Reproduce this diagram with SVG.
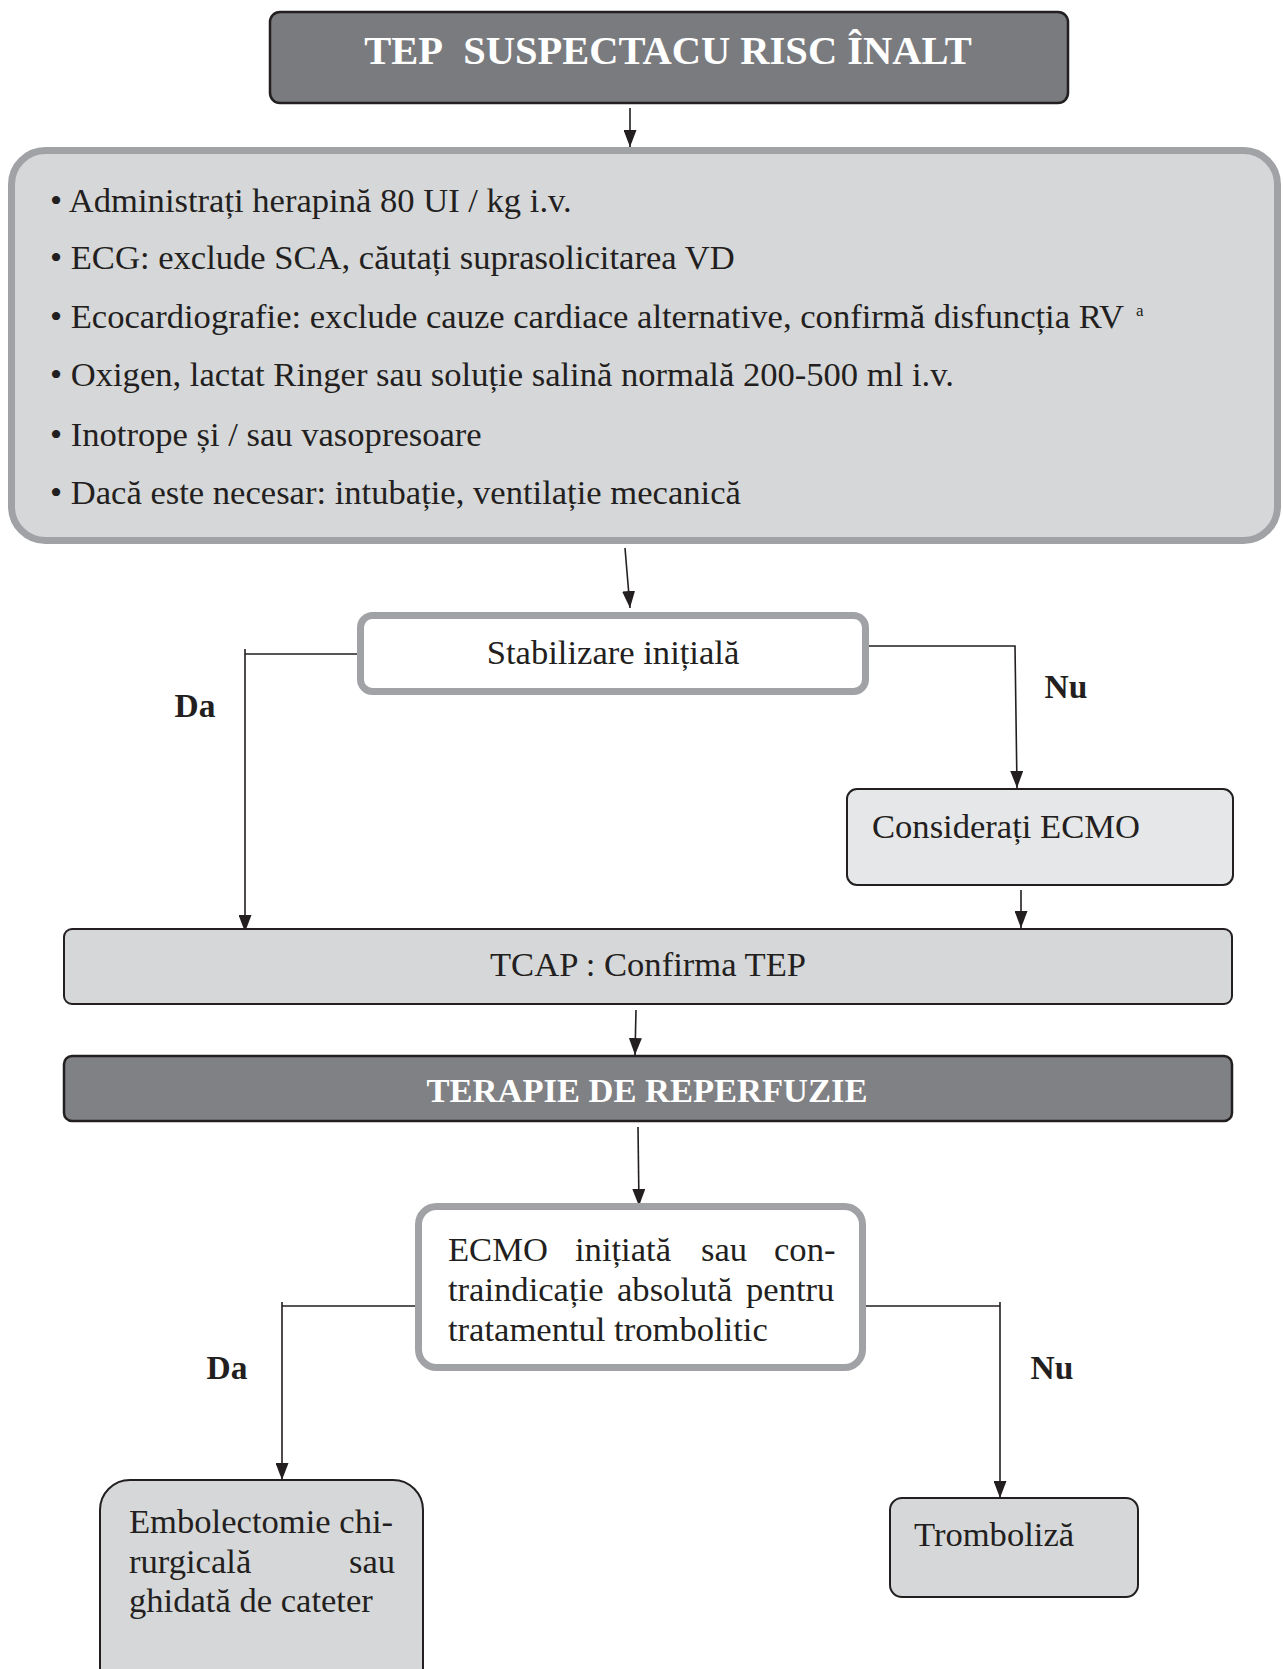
<svg xmlns="http://www.w3.org/2000/svg" width="1283" height="1669" viewBox="0 0 1283 1669">
<defs>
<marker id="ah" markerUnits="userSpaceOnUse" markerWidth="18" markerHeight="13" viewBox="0 0 18 13" refX="17" refY="6.5" orient="auto">
<path d="M0,0 L17,6.5 L0,13 Z" fill="#231f20"/>
</marker>
<style>
.t{font-family:"Liberation Serif","Times New Roman",serif;font-size:34.6px;fill:#231f20}
.sup{font-family:"Liberation Serif","Times New Roman",serif;font-size:17px;fill:#231f20}
.h{font-family:"Liberation Serif","Times New Roman",serif;font-weight:bold;fill:#ffffff}
.lb{font-family:"Liberation Serif","Times New Roman",serif;font-weight:bold;font-size:33.5px;fill:#231f20}
.dark{fill:#7a7b7f;stroke:#231f20;stroke-width:2.5}
.lt{fill:#d6d7d9;stroke:#231f20;stroke-width:2}
.gray{stroke:#a0a2a5;stroke-width:7}
.c{fill:none;stroke:#231f20;stroke-width:1.6}
</style>
</defs>
<rect width="1283" height="1669" fill="#ffffff"/>

<g id="connectors">
<path class="c" d="M630,108 V147" marker-end="url(#ah)"/>
<path class="c" d="M625,548 L630,608" marker-end="url(#ah)"/>
<path class="c" d="M360,654 H245 M245,649 V932" marker-end="url(#ah)"/>
<path class="c" d="M868,646 H1015 L1017,788" marker-end="url(#ah)"/>
<path class="c" d="M1021,890 V928" marker-end="url(#ah)"/>
<path class="c" d="M636,1010 L635,1055" marker-end="url(#ah)"/>
<path class="c" d="M638,1127 L639,1206" marker-end="url(#ah)"/>
<path class="c" d="M417,1306 H282 M282,1302 V1480" marker-end="url(#ah)"/>
<path class="c" d="M866,1306 H1000 M1000,1302 V1498" marker-end="url(#ah)"/>
</g>

<g id="n-title">
<rect class="dark" x="270" y="12" width="798" height="91" rx="10"/>
<text class="h" x="668" y="64" font-size="40.5" text-anchor="middle">TEP&#160; SUSPECTACU RISC ÎNALT</text>
</g>

<g id="n-measures">
<rect x="11.5" y="150.5" width="1266" height="390" rx="34" fill="#d6d7d9" class="gray"/>
<text class="t" x="50" y="212">• Administrați herapină 80 UI / kg i.v.</text>
<text class="t" x="50" y="269">• ECG: exclude SCA, căutați suprasolicitarea VD</text>
<text class="t" x="50" y="328">• Ecocardiografie: exclude cauze cardiace alternative, confirmă disfuncția RV</text>
<text class="sup" x="1136" y="316">a</text>
<text class="t" x="50" y="386">• Oxigen, lactat Ringer sau soluție salină normală 200-500 ml i.v.</text>
<text class="t" x="50" y="446">• Inotrope și / sau vasopresoare</text>
<text class="t" x="50" y="504">• Dacă este necesar: intubație, ventilație mecanică</text>
</g>

<g id="n-stab">
<rect x="360.5" y="615.5" width="505" height="76" rx="12" fill="#ffffff" class="gray"/>
<text class="t" x="613" y="664" text-anchor="middle">Stabilizare inițială</text>
</g>

<text class="lb" x="195" y="717" text-anchor="middle">Da</text>
<text class="lb" x="1066" y="698" text-anchor="middle">Nu</text>

<g id="n-ecmo">
<rect x="847" y="789" width="386" height="96" rx="10" fill="#e6e7e8" stroke="#231f20" stroke-width="2"/>
<text class="t" x="872" y="838">Considerați ECMO</text>
</g>

<g id="n-tcap">
<rect class="lt" x="64" y="929" width="1168" height="75" rx="8"/>
<text class="t" x="648" y="976" text-anchor="middle">TCAP : Confirma TEP</text>
</g>

<g id="n-terapie">
<rect x="64" y="1056" width="1168" height="65" rx="8" fill="#808184" stroke="#231f20" stroke-width="2.5"/>
<text class="h" x="647" y="1102" font-size="34.5" text-anchor="middle">TERAPIE DE REPERFUZIE</text>
</g>

<g id="n-decision">
<rect x="418.5" y="1206.5" width="444" height="161" rx="18" fill="#ffffff" class="gray"/>
<text class="t" y="1261"><tspan x="448">ECMO</tspan><tspan x="575">inițiată</tspan><tspan x="701">sau</tspan><tspan x="774">con-</tspan></text>
<text class="t" y="1301"><tspan x="448">traindicație</tspan><tspan x="617">absolută</tspan><tspan x="746">pentru</tspan></text>
<text class="t" x="448" y="1341">tratamentul trombolitic</text>
</g>

<text class="lb" x="227" y="1379" text-anchor="middle">Da</text>
<text class="lb" x="1052" y="1379" text-anchor="middle">Nu</text>

<g id="n-embol">
<rect class="lt" x="100" y="1480" width="323" height="230" rx="30"/>
<text class="t" x="129" y="1533">Embolectomie chi-</text>
<text class="t" y="1573"><tspan x="129">rurgicală</tspan><tspan x="349">sau</tspan></text>
<text class="t" x="129" y="1612">ghidată de cateter</text>
</g>

<g id="n-tromb">
<rect class="lt" x="890" y="1498" width="248" height="99" rx="12"/>
<text class="t" x="914" y="1546">Tromboliză</text>
</g>
</svg>
